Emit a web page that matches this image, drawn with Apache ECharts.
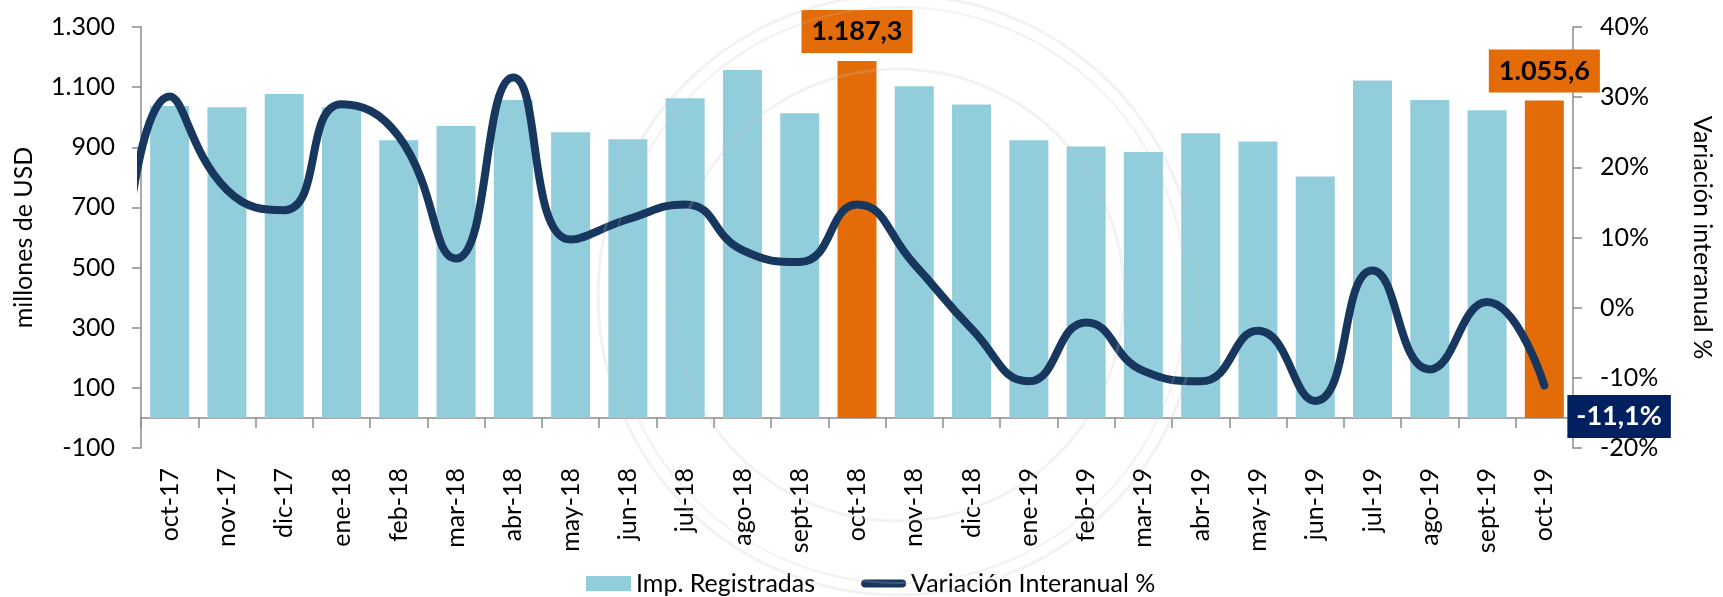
<!DOCTYPE html>
<html>
<head>
<meta charset="utf-8">
<script src="https://cdn.jsdelivr.net/npm/echarts@6/dist/echarts.min.js"></script>
<style>
html, body { margin: 0; padding: 0; background: #fff; }
#chart { width: 1723px; height: 597px; }
</style>
</head>
<body>
<div id="chart"></div>
<script>
// meses del eje X
var categories = ['oct-17', 'nov-17', 'dic-17', 'ene-18', 'feb-18', 'mar-18', 'abr-18', 'may-18', 'jun-18',
    'jul-18', 'ago-18', 'sept-18', 'oct-18', 'nov-18', 'dic-18', 'ene-19', 'feb-19', 'mar-19', 'abr-19',
    'may-19', 'jun-19', 'jul-19', 'ago-19', 'sept-19', 'oct-19'];
// Imp. Registradas (millones de USD)
var importaciones = [1037, 1033, 1077, 1033, 923, 971, 1057, 950, 927, 1063, 1157, 1013, 1187.3,
    1103, 1042, 923, 903, 884, 947, 919, 803, 1122, 1057, 1023, 1055.6];
// Variación interanual %
var variacion = [30.1, 16.8, 13.9, 29.0, 24.4, 7.0, 32.8, 9.7, 12.6, 14.7, 8.2, 6.5, 14.7,
    6.2, -3.0, -10.5, -2.1, -9.0, -10.5, -3.3, -13.3, 5.3, -8.8, 0.8, -11.1];
// sept-17: solo se ve el tramo que entra por el borde izquierdo
var variacionPrevia = -14;
// barras destacadas (oct-18, oct-19)
var destacados = [12, 24];
// ejes
var leftMin = -100, leftMax = 1300, leftStep = 200;
var rightMin = -20, rightMax = 40, rightStep = 10;

var FONT = 'Lato';

function fmtNum(v, dec) {
    var parts = Math.abs(v).toFixed(dec).split('.');
    var ent = parts[0].replace(/\B(?=(\d{3})+(?!\d))/g, '.');
    return (v < 0 ? '-' : '') + (dec ? ent + ',' + parts[1] : ent);
}

var barData = importaciones.map(function (v, i) {
    if (destacados.indexOf(i) < 0) return v;
    return {
        value: v,
        itemStyle: { color: '#E36C09' },
        label: {
            show: true,
            position: 'top',
            distance: 8,
            formatter: function (p) { return fmtNum(p.value, 1); },
            backgroundColor: '#E36C09',
            color: '#000',
            fontFamily: FONT,
            fontWeight: 'bold',
            fontSize: 27,
            lineHeight: 31,
            padding: [6, 10]
        }
    };
});

var lineData = [[-1, variacionPrevia]];
variacion.forEach(function (v, i) {
    if (i === variacion.length - 1) {
        lineData.push({
            value: [i, v],
            symbol: 'circle',
            symbolSize: 2,
            label: {
                show: true,
                position: 'right',
                distance: 22,
                offset: [0, 31],
                formatter: function (p) { return fmtNum(p.value[1], 1) + '%'; },
                backgroundColor: '#002060',
                color: '#fff',
                fontFamily: FONT,
                fontWeight: 'bold',
                fontSize: 27,
                lineHeight: 31,
                padding: [6, 9]
            }
        });
    } else {
        lineData.push([i, v]);
    }
});

var axisGray = '#8C8C8C';

var chart = echarts.init(document.getElementById('chart'));
chart.setOption({
    animation: false,
    textStyle: { fontFamily: FONT },
    grid: { left: 141, right: 145, top: 27, bottom: 149 },
    legend: {
        left: 581,
        top: 566,
        itemWidth: 45,
        itemHeight: 15,
        itemGap: 46,
        textStyle: { fontFamily: FONT, fontSize: 25, color: '#000' },
        data: [
            { name: 'Imp. Registradas', icon: 'rect' },
            // linea gruesa con puntas redondeadas
            { name: 'Variación Interanual %', icon: 'path://M4,0 H41 A4,4 0 0 1 41,8 H4 A4,4 0 0 1 4,0 Z' }
        ]
    },
    graphic: [
        // sello de fondo, muy tenue
        { type: 'circle', silent: true, z: 100, shape: { cx: 898, cy: 295, r: 300 },
          style: { fill: 'none', stroke: 'rgba(190,195,190,0.22)', lineWidth: 3 } },
        { type: 'circle', silent: true, z: 100, shape: { cx: 898, cy: 295, r: 288 },
          style: { fill: 'none', stroke: 'rgba(190,195,190,0.22)', lineWidth: 2 } },
        { type: 'circle', silent: true, z: 100, shape: { cx: 898, cy: 295, r: 226 },
          style: { fill: 'none', stroke: 'rgba(190,195,190,0.22)', lineWidth: 3 } }
    ],
    xAxis: [
        {
            type: 'category',
            data: categories,
            axisLine: { onZero: true, onZeroAxisIndex: 0, lineStyle: { color: axisGray, width: 1.5 } },
            axisTick: { show: true, length: 10, interval: 0, lineStyle: { color: axisGray, width: 1.5 } },
            axisLabel: { interval: 0, rotate: 90, margin: 20, fontSize: 25, color: '#000', fontFamily: FONT }
        },
        {
            type: 'value',
            min: -0.5,
            max: categories.length - 0.5,
            show: false
        }
    ],
    yAxis: [
        {
            type: 'value',
            position: 'left',
            min: leftMin,
            max: leftMax,
            interval: leftStep,
            name: 'millones de USD',
            nameLocation: 'middle',
            nameGap: 105,
            nameTextStyle: { fontSize: 25, color: '#000', fontFamily: FONT },
            axisLine: { show: true, onZero: false, lineStyle: { color: axisGray, width: 1.5 } },
            axisTick: { show: true, length: 9, lineStyle: { color: axisGray, width: 1.5 } },
            splitLine: { show: false },
            axisLabel: { fontSize: 25, color: '#000', margin: 26, fontFamily: FONT,
                formatter: function (v) { return fmtNum(v, 0); } }
        },
        {
            type: 'value',
            position: 'right',
            min: rightMin,
            max: rightMax,
            interval: rightStep,
            name: 'Variación interanual %',
            nameLocation: 'middle',
            nameRotate: -90,
            nameGap: 117,
            nameTextStyle: { fontSize: 25, color: '#000', fontFamily: FONT },
            axisLine: { show: true, onZero: false, lineStyle: { color: axisGray, width: 1.5 } },
            axisTick: { show: true, length: 9, lineStyle: { color: axisGray, width: 1.5 } },
            splitLine: { show: false },
            axisLabel: { fontSize: 25, color: '#000', margin: 27, fontFamily: FONT,
                formatter: function (v) { return v + '%'; } }
        }
    ],
    series: [
        {
            name: 'Imp. Registradas',
            type: 'bar',
            xAxisIndex: 0,
            yAxisIndex: 0,
            barWidth: 39,
            itemStyle: { color: '#92CDDC' },
            data: barData
        },
        {
            name: 'Variación Interanual %',
            type: 'line',
            xAxisIndex: 1,
            yAxisIndex: 1,
            smooth: 0.5,
            symbol: 'none',
            clip: true,
            itemStyle: { color: '#17375E' },
            lineStyle: { color: '#17375E', width: 8, cap: 'round', join: 'round' },
            data: lineData,
            z: 3
        }
    ]
});
</script>
</body>
</html>
